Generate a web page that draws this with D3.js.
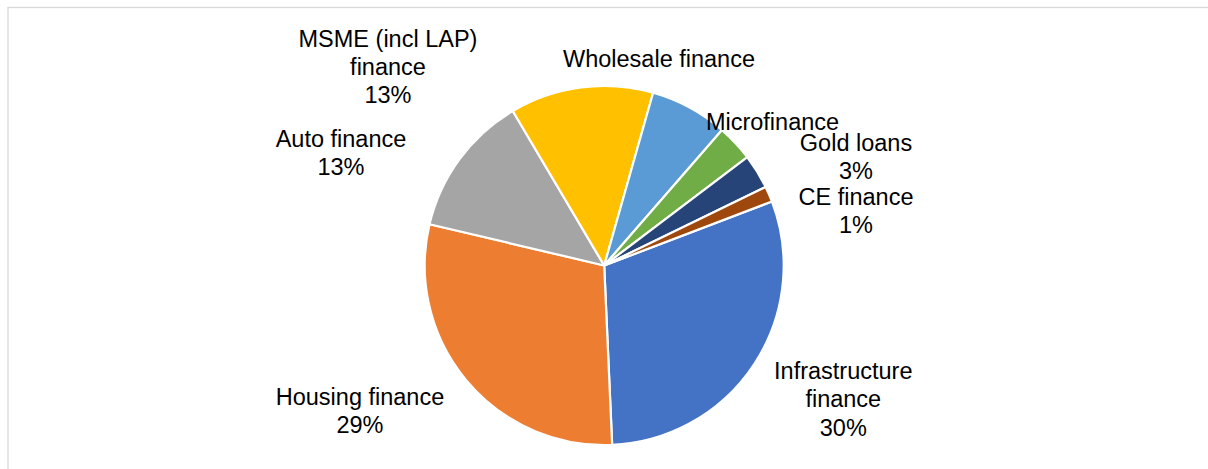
<!DOCTYPE html>
<html>
<head>
<meta charset="utf-8">
<script src="https://cdn.jsdelivr.net/npm/d3@7"></script>
<style>
  html, body { margin: 0; padding: 0; background: #fff; }
  svg { display: block; }
  text { font-family: "Liberation Sans", Arial, sans-serif; }
</style>
</head>
<body>
<svg id="chart" width="1208" height="469"></svg>
<script>
// ---- data ----
const categories = ["Infrastructure finance", "Housing finance", "Auto finance", "MSME (incl LAP) finance",
                    "Wholesale finance", "Microfinance", "Gold loans", "CE finance"];
const shares = [30.1, 29.4, 12.8, 12.9, 7.0, 3.3, 3.1, 1.4];
const labelLines = [
  ["Infrastructure", "finance", "30%"],
  ["Housing finance", "29%"],
  ["Auto finance", "13%"],
  ["MSME (incl LAP)", "finance", "13%"],
  ["Wholesale finance"],
  ["Microfinance"],
  ["Gold loans", "3%"],
  ["CE finance", "1%"]
];

// ---- layout / style ----
const colors = ["#4472C4", "#ED7D31", "#A5A5A5", "#FFC000", "#5B9BD5", "#70AD47", "#264478", "#9E480E"];
const cx = 604.2, cy = 265.5, radius = 179.5;
const startDeg = 69.1;
// label anchor: centre x, first baseline y
const labelPos = [
  [843.3, 379], [360, 405], [341, 146.7], [388, 46.7],
  [659, 66.7], [772.5, 129.5], [856, 151], [856, 205]
];
const fontSize = 23.5;
const lineHs = [28.3, 28.3, 28.3, 28.3, 28.3, 28.3, 27.5, 27.5];

const svg = d3.select("#chart");

// chart border (partially outside the view)
svg.append("rect")
  .attr("x", 8).attr("y", 7.5)
  .attr("width", 1240).attr("height", 500)
  .attr("fill", "none").attr("stroke", "#d9d9d9").attr("stroke-width", 1.3);

const pie = d3.pie().sort(null).value(d => d)
  .startAngle(startDeg * Math.PI / 180)
  .endAngle(startDeg * Math.PI / 180 + 2 * Math.PI);
const arc = d3.arc().innerRadius(0).outerRadius(radius);

const g = svg.append("g").attr("transform", `translate(${cx},${cy})`);
g.selectAll("path")
  .data(pie(shares))
  .join("path")
  .attr("d", arc)
  .attr("fill", (d, i) => colors[i])
  .attr("stroke", "#fff")
  .attr("stroke-width", 2.2)
  .attr("stroke-linejoin", "round");

const labels = svg.selectAll("text.lbl")
  .data(labelLines)
  .join("text")
  .attr("class", "lbl")
  .attr("text-anchor", "middle")
  .attr("font-size", fontSize)
  .attr("fill", "#000");
labels.each(function(lines, i) {
  const t = d3.select(this);
  lines.forEach((ln, j) => {
    t.append("tspan")
      .attr("x", labelPos[i][0])
      .attr("y", labelPos[i][1] + j * lineHs[i])
      .text(ln);
  });
});
</script>
</body>
</html>
